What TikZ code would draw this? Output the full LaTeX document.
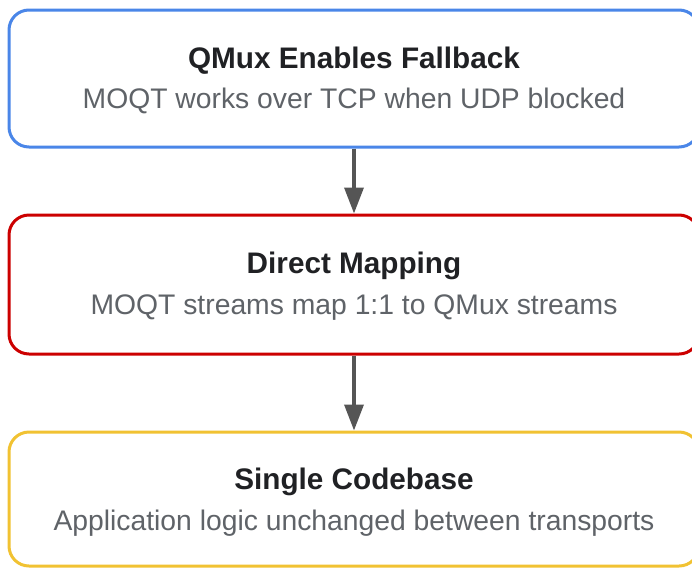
\documentclass[tikz,border=0pt]{standalone}
\usepackage{fontspec}
\setmainfont{Liberation Sans}
\usetikzlibrary{arrows.meta}

\definecolor{gblue}{HTML}{4A86E8}
\definecolor{gred}{HTML}{CC0000}
\definecolor{gyellow}{HTML}{F1C232}
\definecolor{titlegray}{HTML}{202124}
\definecolor{subgray}{HTML}{5F6368}
\definecolor{arrowgray}{HTML}{555555}

\begin{document}
\begin{tikzpicture}
    [ x=1pt, y=-1pt,
      stage/.style={fill=white, line width=3pt, rounded corners=20pt,
                    minimum width=690pt, inner sep=0pt},
      heading/.style={anchor=base, text=titlegray, inner sep=0pt,
                      font={\fontsize{29.7}{35}\selectfont\bfseries}},
      detail/.style={anchor=base, text=subgray, inner sep=0pt,
                     font={\fontsize{28.3}{34}\selectfont}},
      flow/.style={arrowgray, line width=3.5pt,
                   -{Triangle[width=19pt,length=26pt]}}
    ]
    \useasboundingbox (0, 0) rectangle (692, 568);

    % Boxes
    \node[stage, draw=gblue, minimum height=137pt] (fallback) at (354, 78.5) {};
    \node[stage, draw=gred, minimum height=139pt] (mapping) at (354, 284.5) {};
    \node[stage, draw=gyellow, minimum height=134pt] (codebase) at (354, 499) {};

    % Texts
    \node[heading] (fallbacktitle) at (354, 68) {QMux Enables Fallback};
    \node[detail] (fallbacktext) at (354, 108) {MOQT works over TCP when UDP blocked};
    \node[heading] (mappingtitle) at (354, 273) {Direct Mapping};
    \node[detail] (mappingtext) at (354, 314) {MOQT streams map 1:1 to QMux streams};
    \node[heading] (codebasetitle) at (354, 489) {Single Codebase};
    \node[detail] (codebasetext) at (354, 530) {Application logic unchanged between transports};

    % Arrows
    \draw[flow] (fallback.south) -- (mapping.north);
    \draw[flow] (mapping.south) -- (codebase.north);

\end{tikzpicture}
\end{document}
